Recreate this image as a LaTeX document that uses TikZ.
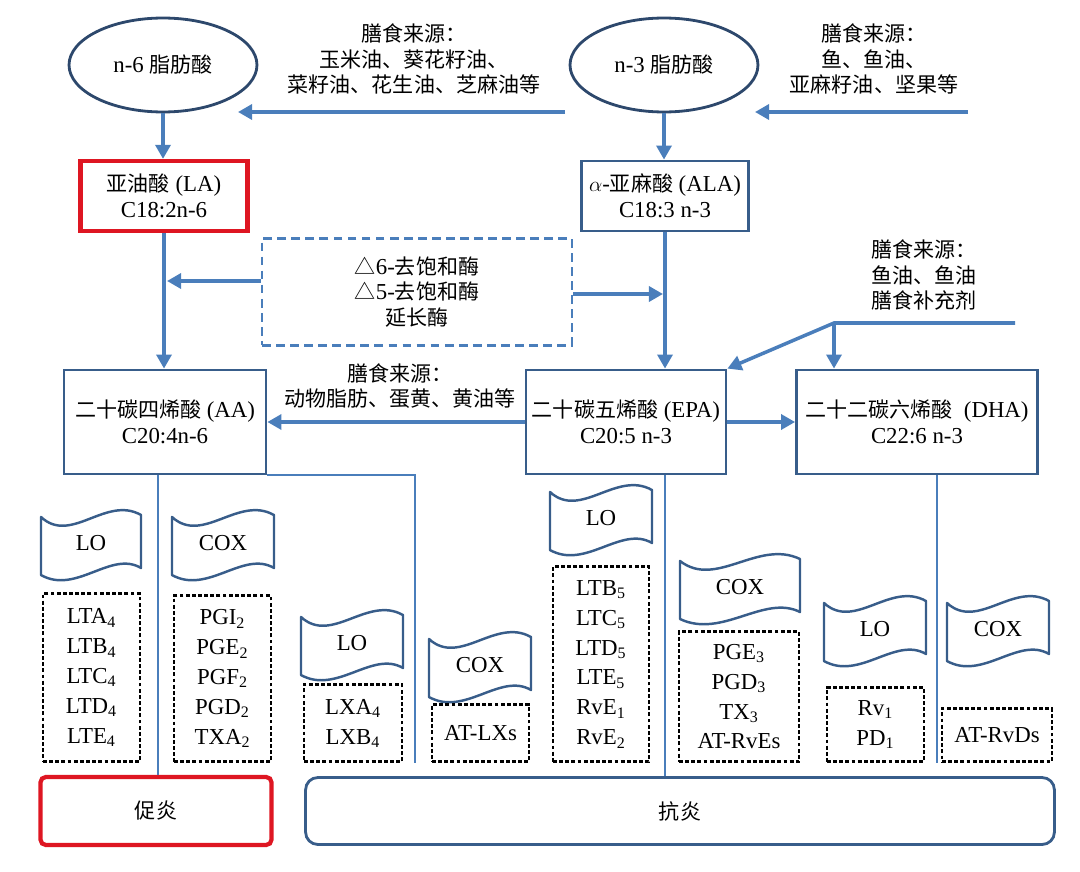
\documentclass[tikz,border=0pt]{standalone}
\usepackage{fontspec}
\setmainfont{Liberation Serif}
\newfontfamily\cjk[Scale=0.92]{Noto Sans CJK SC}
\newcommand{\zh}[1]{{\cjk #1}}
\usetikzlibrary{arrows.meta, shapes.geometric, calc}
\definecolor{lineblue}{RGB}{74,126,187}
\definecolor{boxblue}{RGB}{56,93,138}
\definecolor{darkblue}{RGB}{45,72,108}
\definecolor{hired}{RGB}{222,22,34}

\tikzset{
  fa/.style={ellipse, draw=darkblue, line width=1.6pt, minimum width=3.76cm, minimum height=1.88cm, inner sep=0pt},
  acid/.style={draw=boxblue, line width=1.6pt, align=center, inner sep=0pt, minimum height=2.08cm},
  redacid/.style={acid, draw=hired, line width=2.4pt, minimum height=1.4cm},
  src/.style={align=center, inner sep=0pt},
  enzbox/.style={draw=lineblue, dash pattern=on 5pt off 3pt, line width=1.4pt, align=center, inner sep=0pt},
  arr/.style={-{Triangle[length=8pt,width=8.5pt]}, draw=lineblue, line width=2pt},
  link/.style={draw=lineblue, line width=1.2pt},
  prod/.style={draw=black, dash pattern=on 2.2pt off 1.3pt, line width=1.5pt, align=center, inner sep=0pt,
    anchor=south, font=\fontsize{13pt}{17pt}\selectfont},
  flagline/.style={draw=boxblue, line width=1.4pt, line join=round},
  flagtxt/.style={inner sep=0pt},
  outcome/.style={draw=boxblue, line width=1.6pt, rounded corners=7pt, inner sep=0pt}
}

\newcommand{\enzflag}[5]{%
  \begin{scope}[shift={(#2,#3)}]
    \draw[flagline] (-#4,-28) .. controls ({-0.4*#4},0) and ({0.3*#4},-50) .. (#4,-30)
      -- (#4,23) .. controls ({0.4*#4},5) and ({-0.3*#4},50) .. (-#4,30) -- cycle;
    \node[flagtxt] (#1) at (0,-2) {#5};
  \end{scope}}

\begin{document}
\begin{tikzpicture}[x=0.02cm, y=-0.02cm, every node/.style={font=\fontsize{13pt}{14.5pt}\selectfont}]
  \useasboundingbox (0,0) rectangle (1080,872);

  \node[fa] (n6) at (163,65) {n-6 \zh{脂肪酸}};
  \node[fa] (n3) at (664,65) {n-3 \zh{脂肪酸}};
  \node[src] (s1) at (414,59) {\zh{膳食来源：}\\\zh{玉米油、葵花籽油、}\\\zh{菜籽油、花生油、芝麻油等}};
  \node[src] (s2) at (874,59) {\zh{膳食来源：}\\\zh{鱼、鱼油、}\\\zh{亚麻籽油、坚果等}};
  \coordinate (s1a) at (565,112);
  \coordinate (s1b) at (238,112);
  \coordinate (s2a) at (968,112);
  \coordinate (s2b) at (755,112);
  \draw[arr] (s1a) -- (s1b);
  \draw[arr] (s2a) -- (s2b);

  \node[redacid, minimum width=3.34cm] (la) at (164,196) {\zh{亚油酸} (LA)\\C18:2n-6};
  \node[acid, minimum width=3.34cm, minimum height=1.4cm] (ala) at (665,196) {$\alpha$-\zh{亚麻酸} (ALA)\\C18:3 n-3};
  \draw[arr] (n6.south) -- (n6.south |- la.north);
  \draw[arr] (n3.south) -- (n3.south |- ala.north);

  \node[enzbox, minimum width=6.2cm, minimum height=2.14cm] (enz) at (417,292)
    {\zh{△}6-\zh{去饱和酶}\\\zh{△}5-\zh{去饱和酶}\\\zh{延长酶}};

  \node[acid, minimum width=4.04cm] (aa) at (165,422) {\zh{二十碳四烯酸} (AA)\\C20:4n-6};
  \node[acid, minimum width=4.0cm] (epa) at (626,422) {\zh{二十碳五烯酸} (EPA)\\C20:5 n-3};
  \node[acid, minimum width=4.82cm] (dha) at (917,422) {\zh{二十二碳六烯酸}\ \ (DHA)\\C22:6 n-3};
  \draw[arr] (la.south) -- (la.south |- aa.north);
  \draw[arr] (ala.south) -- (ala.south |- epa.north);
  \coordinate (e1) at (167,281);
  \coordinate (e2) at (663,294);
  \draw[arr] (enz.west |- e1) -- (e1);
  \draw[arr] (enz.east |- e2) -- (e2);

  \node[src] (s3) at (400,386) {\zh{膳食来源：}\\\zh{动物脂肪、蛋黄、黄油等}};
  \draw[arr] (epa.west) -- (aa.east);
  \draw[arr] (epa.east) -- (dha.west);

  \node[src, align=left, anchor=west] (s4) at (871,275) {\zh{膳食来源：}\\\zh{鱼油、鱼油}\\\zh{膳食补充剂}};
  \coordinate (s4a) at (1015,323);
  \coordinate (s4j) at (834,323);
  \draw[arr] (s4a) -- (s4j) -- (epa.north east);
  \draw[arr] (s4j) -- (s4j |- dha.north);

  \enzflag{lo1}{91}{545}{50}{LO}
  \enzflag{cox1}{223}{545}{51}{COX}
  \enzflag{lo2}{352}{645}{51}{LO}
  \enzflag{cox2}{480}{667}{51}{COX}
  \enzflag{lo3}{601}{520}{51}{LO}
  \enzflag{cox3}{740}{589}{60}{COX}
  \enzflag{lo4}{875}{631}{51}{LO}
  \enzflag{cox4}{998}{631}{51}{COX}

  \node[prod, minimum width=1.94cm, minimum height=3.36cm] (p1) at (91.5,763)
    {LTA\textsubscript{4}\\LTB\textsubscript{4}\\LTC\textsubscript{4}\\LTD\textsubscript{4}\\LTE\textsubscript{4}};
  \node[prod, minimum width=1.94cm, minimum height=3.32cm] (p2) at (222.5,763)
    {PGI\textsubscript{2}\\PGE\textsubscript{2}\\PGF\textsubscript{2}\\PGD\textsubscript{2}\\TXA\textsubscript{2}};
  \node[prod, minimum width=1.96cm, minimum height=1.54cm] (p3) at (353,763)
    {LXA\textsubscript{4}\\LXB\textsubscript{4}};
  \node[prod, minimum width=1.94cm, minimum height=1.14cm] (p4) at (480.5,763) {AT-LXs};
  \node[prod, minimum width=1.92cm, minimum height=3.9cm] (p5) at (601,763)
    {LTB\textsubscript{5}\\LTC\textsubscript{5}\\LTD\textsubscript{5}\\LTE\textsubscript{5}\\RvE\textsubscript{1}\\RvE\textsubscript{2}};
  \node[prod, minimum width=2.4cm, minimum height=2.6cm] (p6) at (739,763)
    {PGE\textsubscript{3}\\PGD\textsubscript{3}\\TX\textsubscript{3}\\AT-RvEs};
  \node[prod, minimum width=1.94cm, minimum height=1.48cm] (p7) at (875.5,763)
    {Rv\textsubscript{1}\\PD\textsubscript{1}};
  \node[prod, minimum width=2.2cm, minimum height=1.06cm] (p8) at (997,763) {AT-RvDs};

  \node[outcome, draw=hired, line width=2.4pt, rounded corners=3pt, minimum width=4.62cm, minimum height=1.36cm] (pro) at (156,811) {\zh{促炎}};
  \node[outcome, minimum width=14.98cm, minimum height=1.34cm] (anti) at (680,811) {\zh{抗炎}};

  \coordinate (c1) at (158,0);
  \coordinate (c2) at (415,763);
  \coordinate (c3) at (665,0);
  \coordinate (c4) at (937,763);
  \draw[link] (aa.south -| c1) -- (pro.north -| c1);
  \draw[link] (aa.south east) -| (c2);
  \draw[link] (epa.south -| c3) -- (anti.north -| c3);
  \draw[link] (dha.south -| c4) -- (c4);
\end{tikzpicture}
\end{document}
